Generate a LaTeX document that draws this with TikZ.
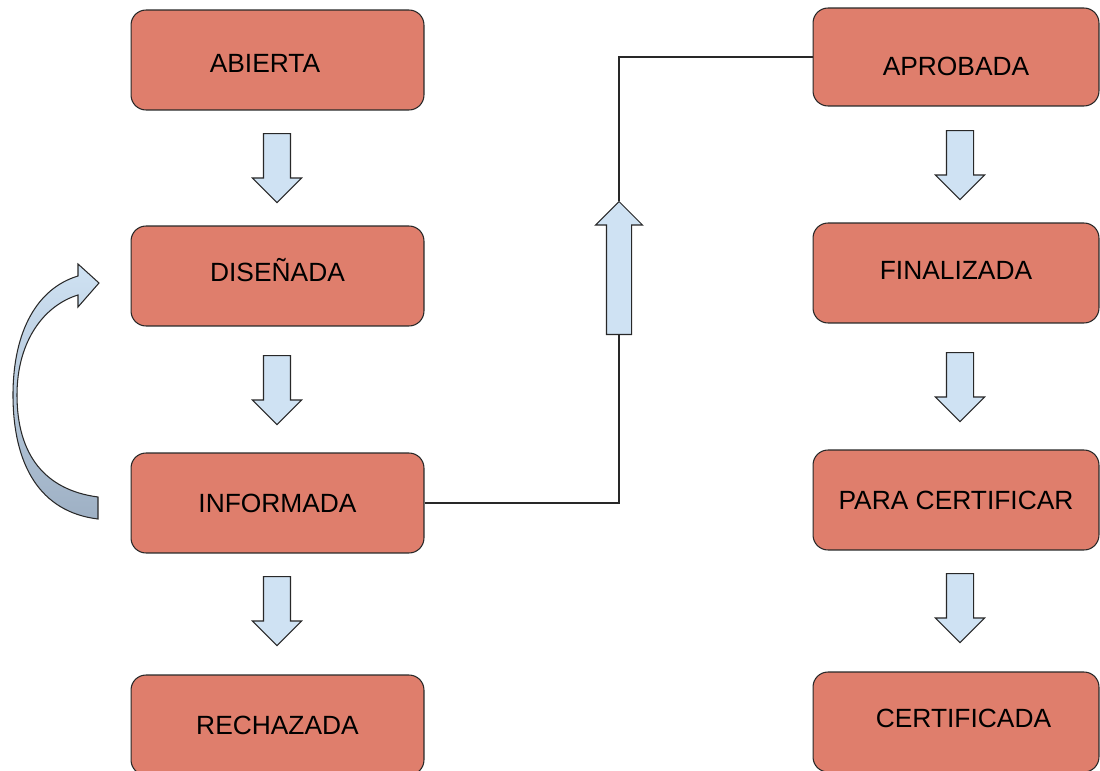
\documentclass[tikz,border=0pt]{standalone}
\usepackage{fontspec}
\setmainfont{Liberation Sans}
\usepackage{tikz}
\usetikzlibrary{shapes.arrows,positioning,calc}
\definecolor{boxred}{RGB}{223,126,108}
\definecolor{arrowblue}{RGB}{207,226,243}
\definecolor{arrowgrey}{RGB}{158,176,196}
\definecolor{edgegrey}{RGB}{40,40,40}

\tikzset{
  statebox/.style={draw=edgegrey, line width=0.6pt, fill=boxred, rounded corners=0.3cm,
                   minimum width=5.86cm, minimum height=2cm, inner sep=0pt,
                   text height=0.38cm, text depth=0pt,
                   font=\fontsize{15}{18}\selectfont},
  blockarrow/.style={single arrow, draw=edgegrey, line width=0.6pt, fill=arrowblue,
                     single arrow head extend=0.22cm, single arrow head indent=0pt,
                     inner xsep=0pt, inner ysep=0.26cm},
}

\begin{document}
\begin{tikzpicture}[x=0.02cm, y=-0.02cm]
  \useasboundingbox (0,0) rectangle (1100,771);

  % States, left column
  \node[statebox, text height=0.5cm] (abierta) at (277.5,60) {\hspace*{-0.5cm}ABIERTA};
  \node[statebox, text depth=0.16cm] (disenada) at (277.5,276) {DISEÑADA};
  \node[statebox] (informada) at (277.5,503) {INFORMADA};
  \node[statebox] (rechazada) at (277.5,725) {RECHAZADA};

  % States, right column
  \node[statebox, minimum width=5.72cm, minimum height=1.96cm, text height=0.74cm] (aprobada) at (956,57) {APROBADA};
  \node[statebox, minimum width=5.72cm, text depth=0.12cm] (finalizada) at (956,273) {FINALIZADA};
  \node[statebox, minimum width=5.72cm] (paracert) at (956,500) {PARA CERTIFICAR};
  \node[statebox, minimum width=5.72cm, text depth=0.16cm] (certificada) at (956,722) {\hspace*{0.3cm}CERTIFICADA};

  % Down arrows (placed by their tails)
  \foreach \x/\y/\n in {277/133/a, 277/355/b, 277/576/c,
                        960/130/d, 960/352/e, 960/573/f} {
    \node[blockarrow, rotate=-90, minimum height=1.38cm, anchor=tail] (down\n) at (\x,\y) {};
  }

  % Up arrow with its line
  \node[blockarrow, rotate=90, inner ysep=0.24cm, minimum height=2.66cm, anchor=tail] (up) at (619,335) {};
  \draw[edgegrey, line width=0.6pt] (informada.east) -| (up.tail);
  \draw[edgegrey, line width=0.6pt] (up.tip) |- (aprobada.west);

  % Curved arrow back to DISEÑADA
  \draw[edgegrey, line width=0.6pt, top color=arrowblue, bottom color=arrowgrey]
    (98,519) .. controls (40,512) and (13,465) .. (13,395)
    .. controls (13,330) and (38,288) .. (78,276)
    -- (78,264) -- (99,283) -- (78,307) -- (78,295)
    .. controls (45,305) and (17,340) .. (17,395)
    .. controls (17,455) and (45,490) .. (98,497) -- cycle;
\end{tikzpicture}
\end{document}
